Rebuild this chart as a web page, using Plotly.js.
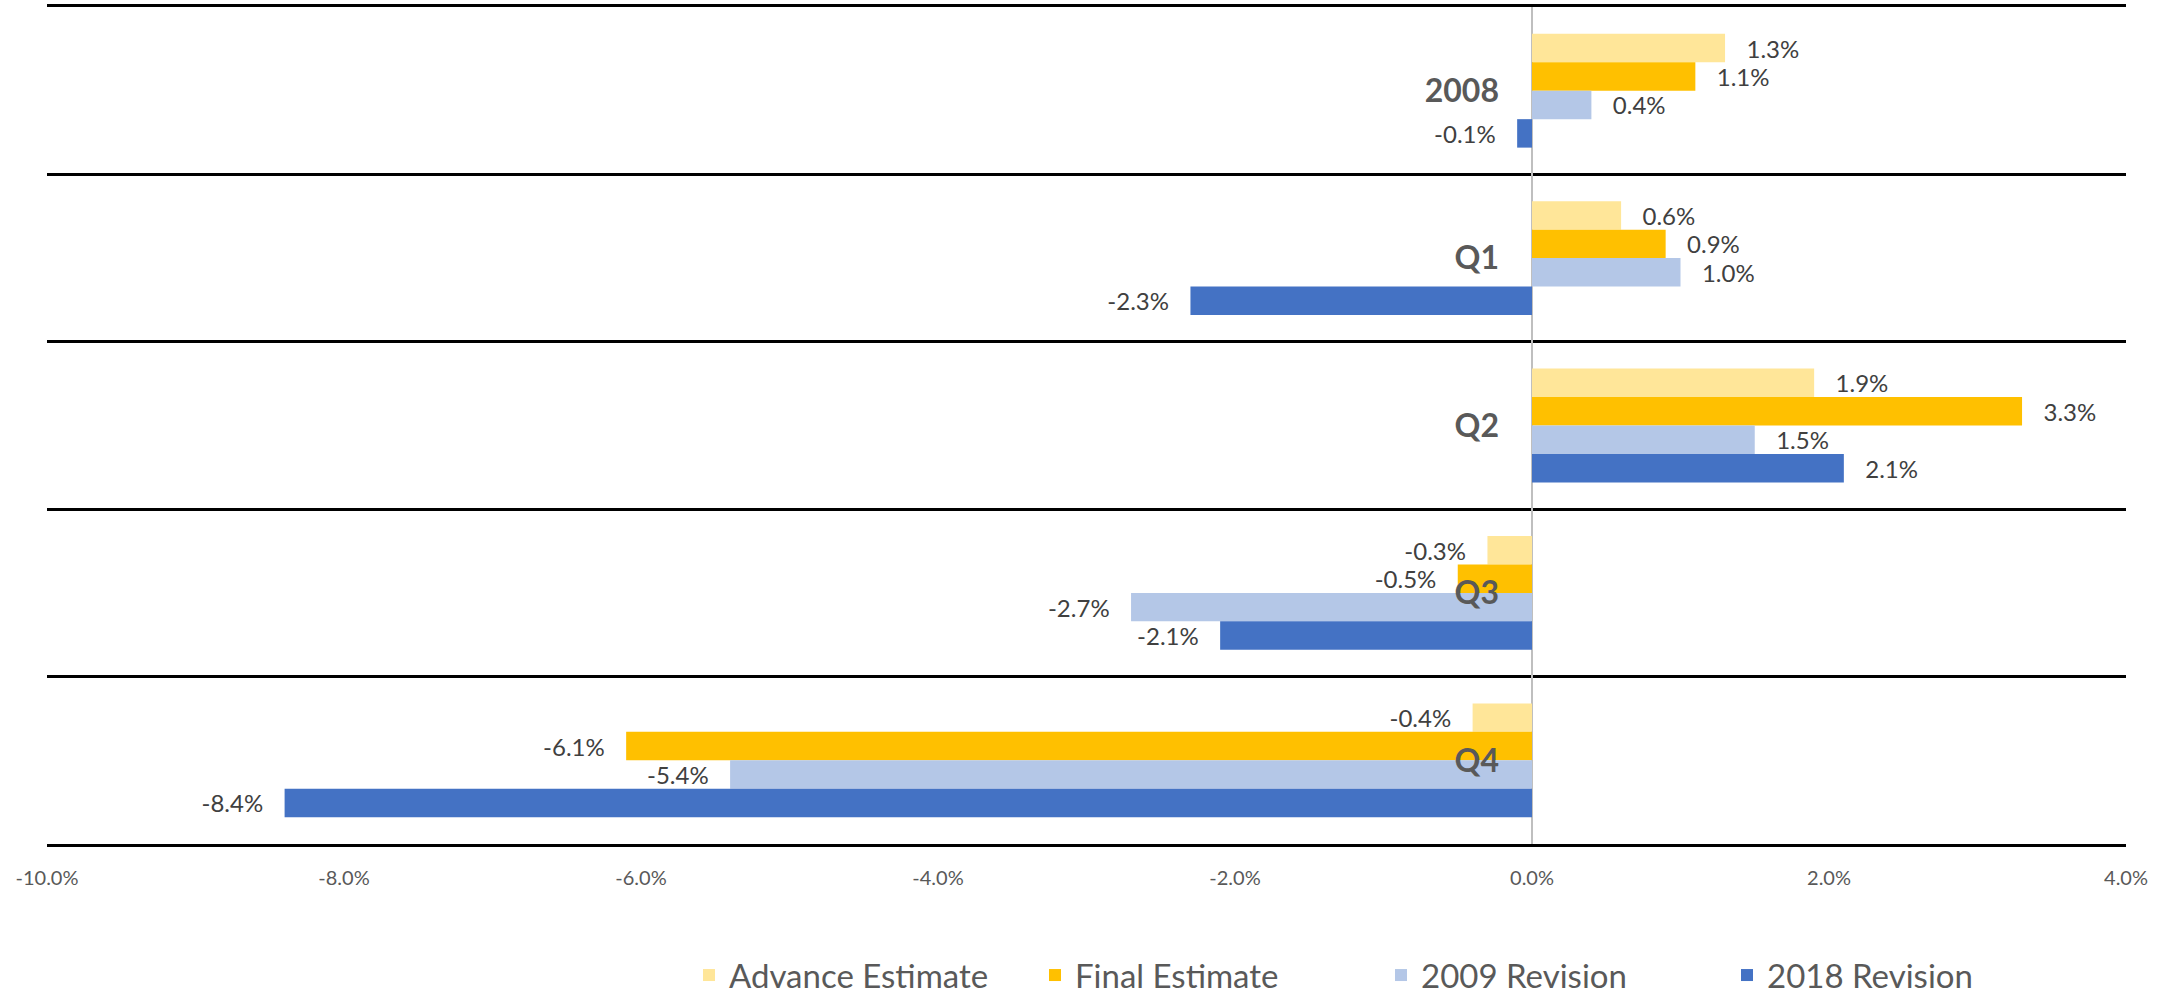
<!DOCTYPE html>
<html><head><meta charset="utf-8">
<script src="https://cdn.plot.ly/plotly-3.0.1.min.js"></script>
<style>html,body{margin:0;padding:0;background:#fff}#chart{width:2167px;height:996px}</style>
</head><body><div id="chart"></div>
<script>
const categories = ['2008', 'Q1', 'Q2', 'Q3', 'Q4'];
const seriesNames = ['Advance Estimate', 'Final Estimate', '2009 Revision', '2018 Revision'];
const advanceEstimate = [1.3, 0.6, 1.9, -0.3, -0.4];
const finalEstimate = [1.1, 0.9, 3.3, -0.5, -6.1];
const revision2009 = [0.4, 1.0, 1.5, -2.7, -5.4];
const revision2018 = [-0.1, -2.3, 2.1, -2.1, -8.4];
const tickValues = [-10, -8, -6, -4, -2, 0, 2, 4];
const tickLabels = ['-10.0%', '-8.0%', '-6.0%', '-4.0%', '-2.0%', '0.0%', '2.0%', '4.0%'];
const seriesColors = ['#FFE699', '#FFC000', '#B4C7E7', '#4472C4'];
const xRange = [-10, 4];

const seriesValues = [advanceEstimate, finalEstimate, revision2009, revision2018];
const FONT = 'Lato, "Open Sans", sans-serif';
const PAD = '\u00A0\u00A0\u00A0';

const traces = seriesValues.map((vals, i) => ({
  type: 'bar',
  orientation: 'h',
  name: seriesNames[i],
  y: categories,
  x: vals,
  text: vals.map(v => v < 0 ? v.toFixed(1) + '%' + PAD : PAD + v.toFixed(1) + '%'),
  textposition: 'outside',
  textfont: {family: FONT, size: 24, color: '#404040'},
  constraintext: 'none',
  cliponaxis: false,
  marker: {color: seriesColors[i]},
  hoverinfo: 'skip'
}));

const zeroPos = (0 - xRange[0]) / (xRange[1] - xRange[0]);

const layout = {
  width: 2167,
  height: 996,
  margin: {l: 47, r: 41, t: 7, b: 152, pad: 0},
  paper_bgcolor: '#ffffff',
  plot_bgcolor: '#ffffff',
  font: {family: FONT, color: '#595959'},
  barmode: 'group',
  bargap: 0.32,
  bargroupgap: 0,
  showlegend: true,
  xaxis: {
    range: xRange,
    tickmode: 'array',
    tickvals: tickValues,
    ticktext: tickLabels,
    tickfont: {family: FONT, size: 20, color: '#595959'},
    ticks: '',
    ticklabelstandoff: 14,
    showgrid: false,
    zeroline: true,
    zerolinecolor: '#BFBFBF',
    zerolinewidth: 2,
    showline: true,
    mirror: true,
    linecolor: '#000000',
    linewidth: 3,
    fixedrange: true,
    automargin: false
  },
  yaxis: {
    type: 'category',
    autorange: 'reversed',
    anchor: 'free',
    position: zeroPos,
    showgrid: true,
    tickson: 'boundaries',
    gridcolor: '#000000',
    gridwidth: 3,
    ticks: '',
    ticklabelstandoff: 33,
    tickfont: {family: FONT, size: 32, color: '#595959', weight: 'bold'},
    showline: false,
    zeroline: false,
    fixedrange: true,
    automargin: false
  },
  legend: {
    orientation: 'h',
    x: 0.3088,
    xanchor: 'left',
    yref: 'container',
    y: 0.021,
    yanchor: 'middle',
    traceorder: 'normal',
    font: {family: FONT, size: 33, color: '#595959'},
    entrywidth: 301,
    bgcolor: 'rgba(0,0,0,0)'
  }
};

Plotly.newPlot('chart', traces, layout, {displayModeBar: false, staticPlot: true});
</script>
</body></html>
